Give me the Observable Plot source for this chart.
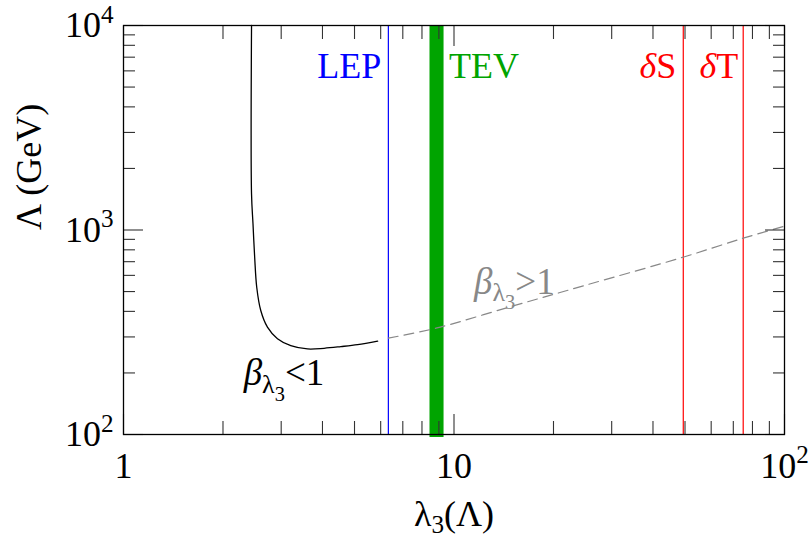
<!DOCTYPE html>
<html>
<head>
<meta charset="utf-8">
<script src="https://cdn.jsdelivr.net/npm/d3@7"></script>
<script src="https://cdn.jsdelivr.net/npm/@observablehq/plot@0.6"></script>
<style>
  html, body { margin: 0; padding: 0; background: #fff; }
  svg { display: block; }
</style>
</head>
<body>
<div id="chart"></div>
<script>
// Axis tick values (log scales)
const xMajor = [1, 10, 100];
const xMinor = [2, 3, 4, 5, 6, 7, 8, 9, 20, 30, 40, 50, 60, 70, 80, 90];
const yMajor = [100, 1000, 10000];
const yMinor = [200, 300, 400, 500, 600, 700, 800, 900, 2000, 3000, 4000, 5000, 6000, 7000, 8000, 9000];
const xTickLabels = ["1", "10", "10^2"];
const yTickLabels = ["10^2", "10^3", "10^4"];
const xTitle = "λ_3(Λ)";
const yTitle = "Λ (GeV)";

// β(λ3) < 1 boundary (solid)
const solidX = [2.44, 2.44, 2.465, 2.494, 2.53, 2.602, 2.726, 2.923, 3.207, 3.604, 4.046, 4.547, 5.109, 5.873];
const solidY = [10000, 1500, 1072, 736, 525, 404, 335, 294, 272, 262, 264, 269, 275, 286];

// β(λ3) > 1 continuation (dashed)
const dashX = [6.33, 8.82, 15, 24.8, 49.3, 75, 100];
const dashY = [296, 331, 424, 535, 736, 912, 1044];

// Experimental bounds on λ3
const lepX = 6.33;
const tevBand = [8.46, 9.33];
const deltaSX = 49.4;
const deltaTX = 75;

// Region labels and their anchors
const regionText = ["*β*_{λ_3}<1", "*β*_{λ_3}>1"];
const regionX = [2.31, 11.5];
const regionY = [174, 489];

const font = "'Liberation Serif', 'Times New Roman', Times, serif";
const green = "#00a400";

const solid = solidX.map((x, i) => ({x, y: solidY[i]}));
const dashed = dashX.map((x, i) => ({x, y: dashY[i]}));
const regions = regionText.map((t, i) => ({t, x: regionX[i], y: regionY[i]}));

const tickStyle = {stroke: "#333", strokeWidth: 1.1, tickFormat: () => "", label: null};

const chart = Plot.plot({
  width: 812,
  height: 538,
  marginTop: 25,
  marginRight: 28,
  marginBottom: 104,
  marginLeft: 123,
  style: {fontFamily: font, background: "#fff", color: "#000"},
  x: {type: "log", domain: [1, 100]},
  y: {type: "log", domain: [100, 10000]},
  marks: [
    // TEV band
    Plot.rect([tevBand], {x1: d => d[0], x2: d => d[1], y1: 100, y2: 10000, fill: green, insetBottom: -3}),
    // LEP and oblique-parameter bounds
    Plot.ruleX([lepX], {stroke: "#0000ff", strokeWidth: 1.2}),
    Plot.ruleX([deltaSX, deltaTX], {stroke: "#ff0000", strokeWidth: 1.2}),
    // Curves
    Plot.line(solid, {x: "x", y: "y", stroke: "#000", strokeWidth: 1.3, curve: "catmull-rom"}),
    Plot.line(dashed, {x: "x", y: "y", stroke: "#888", strokeWidth: 1.2, strokeDasharray: "10,6", curve: "catmull-rom"}),
    // Inward ticks on all four sides
    Plot.axisX(xMajor, {anchor: "bottom", tickSize: -20, ...tickStyle}),
    Plot.axisX(xMinor, {anchor: "bottom", tickSize: -13, ...tickStyle}),
    Plot.axisX(xMajor, {anchor: "top", tickSize: -20, ...tickStyle}),
    Plot.axisX(xMinor, {anchor: "top", tickSize: -13, ...tickStyle}),
    Plot.axisY(yMajor, {anchor: "left", tickSize: -20, ...tickStyle}),
    Plot.axisY(yMinor, {anchor: "left", tickSize: -12, ...tickStyle}),
    Plot.axisY(yMajor, {anchor: "right", tickSize: -20, ...tickStyle}),
    Plot.axisY(yMinor, {anchor: "right", tickSize: -12, ...tickStyle}),
    Plot.frame({stroke: "#000", strokeWidth: 1.3}),
    // Tick labels
    Plot.text(xMajor, {x: d => d, text: (d, i) => xTickLabels[i], frameAnchor: "bottom", dy: 43, lineAnchor: "bottom", fontSize: 36, fill: "#000"}),
    Plot.text(yMajor, {y: d => d, text: (d, i) => yTickLabels[i], frameAnchor: "left", dx: -10, textAnchor: "end", lineAnchor: "middle", fontSize: 36, fill: "#000"}),
    // Axis titles
    Plot.text([xTitle], {text: d => d, frameAnchor: "bottom", dy: 91, lineAnchor: "bottom", fontSize: 36, fill: "#000"}),
    Plot.text([yTitle], {text: d => d, frameAnchor: "left", dx: -94, rotate: -90, lineAnchor: "middle", fontSize: 36, fill: "#000"}),
    // Bound labels
    Plot.text(["LEP"], {x: lepX, text: d => d, frameAnchor: "top", dx: -7, dy: 52, textAnchor: "end", lineAnchor: "bottom", fontSize: 36, fill: "#0000ff"}),
    Plot.text(["TEV"], {x: Math.sqrt(tevBand[0] * tevBand[1]), text: d => d, frameAnchor: "top", dx: 12, dy: 52, textAnchor: "start", lineAnchor: "bottom", fontSize: 36, fill: green}),
    Plot.text(["*δ*S"], {x: deltaSX, text: d => d, frameAnchor: "top", dx: -7, dy: 52, textAnchor: "end", lineAnchor: "bottom", fontSize: 36, fill: "#ff0000"}),
    Plot.text(["*δ*T"], {x: deltaTX, text: d => d, frameAnchor: "top", dx: -5, dy: 52, textAnchor: "end", lineAnchor: "bottom", fontSize: 36, fill: "#ff0000"}),
    // Region labels
    Plot.text(regions.slice(0, 1), {x: "x", y: "y", text: "t", textAnchor: "start", lineAnchor: "bottom", fontSize: 37, fill: "#000"}),
    Plot.text(regions.slice(1), {x: "x", y: "y", text: "t", textAnchor: "start", lineAnchor: "bottom", fontSize: 37, fill: "#888"})
  ]
});

document.getElementById("chart").appendChild(chart);

// Light markup for labels: ^x / ^{..} superscript, _x / _{..} subscript, *..* italic
function parseRich(s) {
  const out = [];
  let italic = false;
  (function walk(str, level) {
    let buf = "";
    const flush = () => { if (buf) { out.push({t: buf, level, italic}); buf = ""; } };
    for (let i = 0; i < str.length; i++) {
      const c = str[i];
      if (c === "*") { flush(); italic = !italic; continue; }
      if (c === "_" || c === "^") {
        flush();
        const d = c === "_" ? -1 : 1;
        let inner;
        if (str[i + 1] === "{") {
          let depth = 0, j = i + 1;
          for (; j < str.length; j++) {
            if (str[j] === "{") depth++;
            else if (str[j] === "}") { depth--; if (depth === 0) break; }
          }
          inner = str.slice(i + 2, j);
          i = j;
        } else {
          inner = str[i + 1];
          i += 1;
        }
        walk(inner, level + d);
        continue;
      }
      buf += c;
    }
    flush();
  })(s, 0);
  return out;
}

function richify(root) {
  const ns = "http://www.w3.org/2000/svg";
  root.querySelectorAll("text").forEach(el => {
    const s = el.textContent;
    if (!/[_^*]/.test(s)) return;
    const base = parseFloat(getComputedStyle(el).fontSize) || 36;
    el.textContent = "";
    let cur = 0;
    for (const seg of parseRich(s)) {
      const a = Math.abs(seg.level);
      const scale = a === 0 ? 1 : a === 1 ? 0.7 : 0.55;
      const off = seg.level === 0 ? 0
        : seg.level > 0 ? -0.4 * base
        : (seg.level === -1 ? 0.2 : 0.42) * base;
      const ts = document.createElementNS(ns, "tspan");
      ts.setAttribute("font-size", (scale * base).toFixed(1));
      if (off !== cur) { ts.setAttribute("dy", (off - cur).toFixed(1)); cur = off; }
      if (seg.italic) ts.setAttribute("font-style", "italic");
      ts.textContent = seg.t;
      el.appendChild(ts);
    }
  });
}

richify(chart);
</script>
</body>
</html>
